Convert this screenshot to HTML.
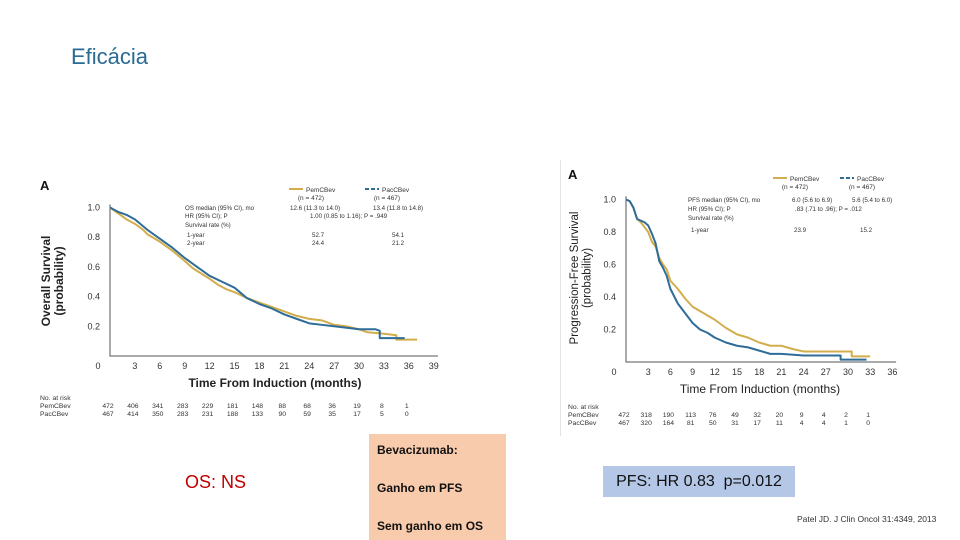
<!DOCTYPE html>
<html>
<head>
<meta charset="utf-8">
<style>
  html,body{margin:0;padding:0;background:#fff;}
  body{width:960px;height:540px;position:relative;overflow:hidden;font-family:"Liberation Sans",sans-serif;}
  .abs{position:absolute;}
  #title{left:71px;top:44px;font-size:22px;color:#2a6a94;}
  #bev{left:369px;top:434px;width:137px;height:106px;background:#f8cbad;font-size:12px;font-weight:bold;color:#111;}
  #bev div{position:absolute;left:8px;}
  #os-ns{left:185px;top:472px;font-size:18px;color:#c00000;}
  #pfs-box{left:603px;top:466px;width:192px;height:31px;background:#b4c7e7;font-size:16px;color:#111;line-height:31px;text-align:center;}
  #cite{left:797px;top:514px;font-size:8.5px;color:#333;}
  #sep{left:560px;top:160px;width:1px;height:276px;background:#e4e4e4;}
</style>
</head>
<body>
<div id="title" class="abs">Eficácia</div>
<div id="sep" class="abs"></div>

<svg id="os-chart" class="abs" style="left:0;top:0" width="560" height="430" font-family="Liberation Sans, sans-serif"></svg>
<svg id="pfs-chart" class="abs" style="left:0;top:0" width="960" height="440" font-family="Liberation Sans, sans-serif"></svg>

<div id="bev" class="abs">
  <div style="top:9px">Bevacizumab:</div>
  <div style="top:47px">Ganho em PFS</div>
  <div style="top:85px">Sem ganho em OS</div>
</div>
<div id="os-ns" class="abs">OS: NS</div>
<div id="pfs-box" class="abs">PFS: HR 0.83&nbsp; p=0.012</div>
<div id="cite" class="abs">Patel JD. J Clin Oncol 31:4349, 2013</div>

<script>
// ---- OS chart data ----
const osPemMonths = [0,1,2,3,4,4.5,6,7.5,9,10,12,13,14,15,16.5,18,19.5,21,22.5,24,25.5,27,28.5,30,31,33,34.5,34.5,37];
const osPemSurv   = [1,0.96,0.92,0.89,0.85,0.82,0.77,0.71,0.64,0.59,0.52,0.48,0.45,0.43,0.39,0.36,0.33,0.30,0.27,0.25,0.24,0.21,0.20,0.18,0.16,0.15,0.14,0.11,0.11];
const osPacMonths = [0,1,2,3,4.5,6,7.5,9,10.5,12,13.5,15,16.5,18,19.5,21,22.5,24,25.5,27,28.5,30,32,32.5,32.5,34,35.5];
const osPacSurv   = [1,0.97,0.95,0.92,0.85,0.79,0.73,0.66,0.60,0.54,0.50,0.46,0.39,0.35,0.32,0.28,0.25,0.22,0.21,0.20,0.19,0.18,0.18,0.17,0.12,0.12,0.12];
const osXTicks = [0,3,6,9,12,15,18,21,24,27,30,33,36,39];
const osYTicks = [0.2,0.4,0.6,0.8,1.0];
const osRiskPem = [472,406,341,283,229,181,148,88,68,36,19,8,1];
const osRiskPac = [467,414,350,283,231,188,133,90,59,35,17,5,0];

// ---- PFS chart data ----
const pfsPemMonths = [0,0.5,1,1.5,2,3,3.5,4,4.5,5,5.5,6,7,8,9,10.5,12,13.5,15,16.5,18,19.5,21,22.5,24,30.5,30.5,33];
const pfsPemSurv   = [1,0.99,0.95,0.88,0.86,0.80,0.74,0.71,0.64,0.60,0.57,0.50,0.45,0.39,0.34,0.30,0.26,0.21,0.17,0.15,0.12,0.10,0.10,0.08,0.065,0.065,0.035,0.035];
const pfsPacMonths = [0,0.5,1,1.5,2,2.5,3,3.5,4,4.5,5,5.5,6,7,8,9,10,11,12,13.5,15,16.5,18,19.5,21,24,29,29,32.5];
const pfsPacSurv   = [1,0.99,0.95,0.88,0.87,0.86,0.84,0.79,0.73,0.62,0.58,0.53,0.45,0.36,0.30,0.24,0.20,0.18,0.15,0.12,0.10,0.09,0.07,0.05,0.05,0.04,0.04,0.015,0.015];
const pfsXTicks = [0,3,6,9,12,15,18,21,24,27,30,33,36];
const pfsYTicks = [0.2,0.4,0.6,0.8,1.0];
const pfsRiskPem = [472,318,190,113,76,49,32,20,9,4,2,1];
const pfsRiskPac = [467,320,164,81,50,31,17,11,4,4,1,0];

const NS='http://www.w3.org/2000/svg';
const GOLD='#d2ad4b', BLUE='#2f6c98';
function mk(svg,tag,attrs,text){const e=document.createElementNS(NS,tag);for(const k in attrs)e.setAttribute(k,attrs[k]);if(text!==undefined)e.textContent=text;svg.appendChild(e);return e;}
function linePath(xs,ys,sx,sy){let d='M'+sx(xs[0])+','+sy(ys[0]);for(let i=1;i<xs.length;i++){d+=' L'+sx(xs[i])+','+sy(ys[i]);}return d;}

function drawChart(svg,cfg){
  const sx=m=>cfg.x0+m*cfg.xs, sy=v=>cfg.y0-v*cfg.ys;
  let t=mk(svg,'text',{x:cfg.ax,y:cfg.ay,'font-size':13,'font-weight':'bold',fill:'#111'},'A');
  
  let a=mk(svg,'path',{d:'M'+cfg.x0+','+sy(1.02)+' V'+cfg.y0+' H'+sx(cfg.xmax),stroke:'#555',fill:'none','stroke-width':1});
  
  cfg.yticks.forEach(v=>{let l=mk(svg,'text',{x:cfg.x0-10,y:sy(v)+3,'font-size':9,'text-anchor':'end',fill:'#333'},v.toFixed(1));
    });
  cfg.xticks.forEach(v=>{let l=mk(svg,'text',{x:v===0?cfg.x0-12:sx(v),y:cfg.y0+13,'font-size':9,'text-anchor':'middle',fill:'#333'},v);
    });
  let xt=mk(svg,'text',{x:cfg.xtx,y:cfg.y0+31,'font-size':12,'text-anchor':'middle',fill:'#222','font-weight':cfg.boldTitle?'bold':'normal'},'Time From Induction (months)');
  
  let yt=mk(svg,'text',{transform:'translate('+cfg.ytx+','+cfg.yty+') rotate(-90)','font-size':cfg.ytfs,'text-anchor':'middle',fill:'#222','font-weight':cfg.boldTitle?'bold':'normal'});
  
  mk(yt,'tspan',{x:0,dy:0},cfg.ytitle1);mk(yt,'tspan',{x:0,dy:cfg.ytfs+1},'(probability)');
  let p1=mk(svg,'path',{d:linePath(cfg.pemX,cfg.pemY,sx,sy),stroke:GOLD,'stroke-width':2,fill:'none','stroke-linejoin':'round'});
  
  let p2=mk(svg,'path',{d:linePath(cfg.pacX,cfg.pacY,sx,sy),stroke:BLUE,'stroke-width':2,fill:'none','stroke-linejoin':'round'});
  
  let g=mk(svg,'g',{});
  mk(g,'line',{x1:cfg.lx,y1:cfg.ly,x2:cfg.lx+14,y2:cfg.ly,stroke:GOLD,'stroke-width':2});
  mk(g,'text',{x:cfg.lx+17,y:cfg.ly+3,'font-size':6.5,fill:'#333'},'PemCBev');
  mk(g,'text',{x:cfg.lx+22,y:cfg.ly+11,'font-size':6.5,fill:'#333','text-anchor':'middle'},cfg.nPem);
  mk(g,'line',{x1:cfg.lx2,y1:cfg.ly,x2:cfg.lx2+14,y2:cfg.ly,stroke:BLUE,'stroke-width':2,'stroke-dasharray':'4,2'});
  mk(g,'text',{x:cfg.lx2+17,y:cfg.ly+3,'font-size':6.5,fill:'#333'},'PacCBev');
  mk(g,'text',{x:cfg.lx2+22,y:cfg.ly+11,'font-size':6.5,fill:'#333','text-anchor':'middle'},cfg.nPac);
  cfg.stats.forEach(s=>{mk(g,'text',{x:s[0],y:s[1],'font-size':6.2,fill:'#333'},s[2]);});
  let r=mk(svg,'g',{'font-size':6.8,fill:'#333'});
  mk(r,'text',{x:cfg.rlx,y:cfg.ry},'No. at risk');
  mk(r,'text',{x:cfg.rlx,y:cfg.ry+8},'PemCBev');
  mk(r,'text',{x:cfg.rlx,y:cfg.ry+16},'PacCBev');
  cfg.riskPem.forEach((v,i)=>mk(r,'text',{x:sx(i*3)-2,y:cfg.ry+8,'text-anchor':'middle'},v));
  cfg.riskPac.forEach((v,i)=>mk(r,'text',{x:sx(i*3)-2,y:cfg.ry+16,'text-anchor':'middle'},v));
}

drawChart(document.getElementById('os-chart'),{
  x0:110,xs:24.9/3,y0:356,ys:148.5,xmax:39.5,ax:40,ay:190,
  xticks:osXTicks,yticks:osYTicks,xtx:275,ytx:50,yty:281,ytfs:12,boldTitle:true,ytitle1:'Overall Survival',
  pemX:osPemMonths,pemY:osPemSurv,pacX:osPacMonths,pacY:osPacSurv,
  lx:289,lx2:365,ly:189,nPem:'(n = 472)',nPac:'(n = 467)',
  stats:[[185,210,'OS median (95% CI), mo'],[290,210,'12.6 (11.3 to 14.0)'],[373,210,'13.4 (11.8 to 14.8)'],
         [185,218,'HR (95% CI); P'],[310,218,'1.00 (0.85 to 1.16); P = .949'],
         [185,227,'Survival rate (%)'],[187,237,'1-year'],[312,237,'52.7'],[392,237,'54.1'],
         [187,245,'2-year'],[312,245,'24.4'],[392,245,'21.2']],
  rlx:40,ry:400,riskPem:osRiskPem,riskPac:osRiskPac
});

drawChart(document.getElementById('pfs-chart'),{
  x0:626,xs:22.2/3,y0:362,ys:162.5,xmax:36.5,ax:568,ay:179,
  xticks:pfsXTicks,yticks:pfsYTicks,xtx:760,ytx:578,yty:278,ytfs:11.5,boldTitle:false,ytitle1:'Progression-Free Survival',
  pemX:pfsPemMonths,pemY:pfsPemSurv,pacX:pfsPacMonths,pacY:pfsPacSurv,
  lx:773,lx2:840,ly:178,nPem:'(n = 472)',nPac:'(n = 467)',
  stats:[[688,202,'PFS median (95% CI), mo'],[792,202,'6.0 (5.6 to 6.9)'],[852,202,'5.6 (5.4 to 6.0)'],
         [688,211,'HR (95% CI); P'],[795,211,'.83 (.71 to .96); P = .012'],
         [688,220,'Survival rate (%)'],[691,232,'1-year'],[794,232,'23.9'],[860,232,'15.2']],
  rlx:568,ry:409,riskPem:pfsRiskPem,riskPac:pfsRiskPac
});
</script>
</body>
</html>
